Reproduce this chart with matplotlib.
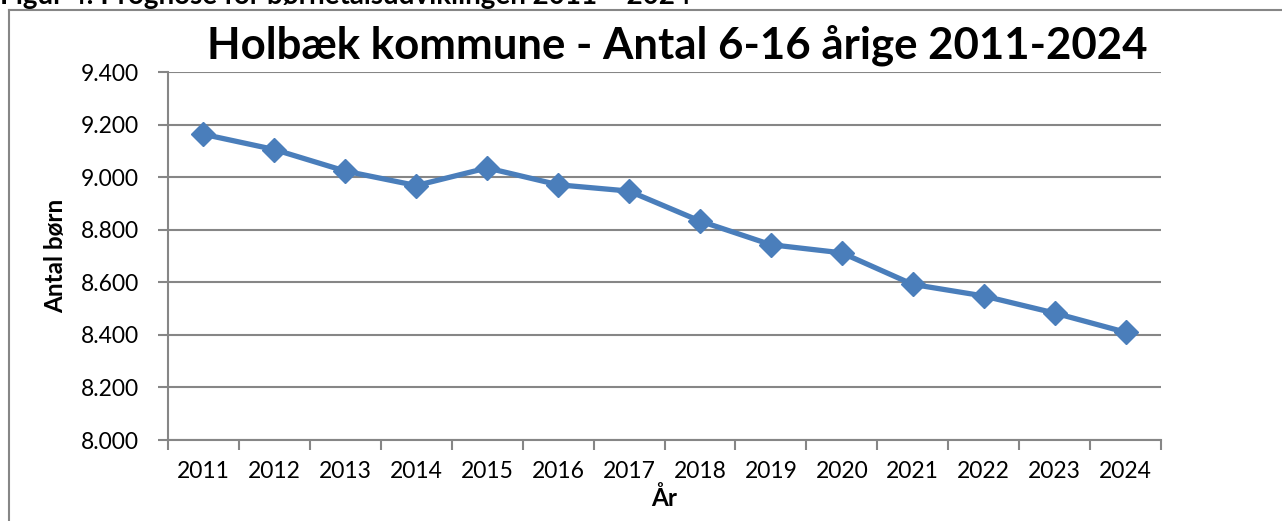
import matplotlib.pyplot as plt
from matplotlib.lines import Line2D
import numpy as np

# data
years = ["2011", "2012", "2013", "2014", "2015", "2016", "2017",
         "2018", "2019", "2020", "2021", "2022", "2023", "2024"]
antal = [9163, 9105, 9023, 8968, 9035, 8971, 8947,
         8833, 8743, 8712, 8592, 8548, 8483, 8410]
yticks = [8000, 8200, 8400, 8600, 8800, 9000, 9200, 9400]
ytick_labels = ["8.000", "8.200", "8.400", "8.600", "8.800", "9.000", "9.200", "9.400"]

plt.rcParams['font.family'] = ['Lato', 'DejaVu Sans']
grey = "#868686"
blue = "#4A7EBB"

fig = plt.figure(figsize=(12.82, 5.21), dpi=100)
ax = fig.add_axes([168 / 1282, 1 - 440 / 521, (1161 - 168) / 1282, (440 - 72) / 521])

x = np.arange(len(years))
ax.plot(x, antal, color=blue, lw=3.8, marker="D", markersize=12,
        markeredgecolor=blue, markerfacecolor=blue, clip_on=False, zorder=3)

ax.set_ylim(8000, 9400)
ax.set_xlim(-0.5, len(years) - 0.5)
ax.set_yticks(yticks)
ax.set_yticklabels(ytick_labels, fontsize=16.5)
ax.set_xticks(x)
ax.set_xticklabels(years, fontsize=16.5)
ax.set_xticks(np.arange(-0.5, len(years)), minor=True)
ax.tick_params(axis="x", which="major", length=0, pad=15)
ax.tick_params(axis="x", which="minor", length=7, width=1.5, color=grey, direction="out")
ax.tick_params(axis="y", length=7, width=1.5, color=grey, direction="out", pad=14)

ax.grid(axis="y", color=grey, lw=1.5)
ax.set_axisbelow(True)
for s in ["top", "right"]:
    ax.spines[s].set_visible(False)
for s in ["left", "bottom"]:
    ax.spines[s].set_color(grey)
    ax.spines[s].set_linewidth(1.5)

ax.set_ylabel("Antal børn", fontsize=17.5, fontweight="bold", labelpad=10)
ax.set_xlabel("År", fontsize=17.5, fontweight="bold", labelpad=3)

fig.text(677 / 1282, 1 - 45 / 521, "Holbæk kommune - Antal 6-16 årige 2011-2024",
         ha="center", va="center", fontsize=31.5, fontweight="bold")

# figure caption cut off at the top of the picture
fig.text(0.0, 1 - 4 / 521, "Figur 4: Prognose for børnetalsudviklingen 2011 – 2024",
         ha="left", va="baseline", fontsize=20, fontweight="bold")

# outer chart frame (only left and top visible)
fig.add_artist(Line2D([9 / 1282, 9 / 1282], [0, 1 - 10 / 521], color=grey, lw=1.5))
fig.add_artist(Line2D([9 / 1282, 1], [1 - 10 / 521, 1 - 10 / 521], color=grey, lw=1.5))

plt.savefig("out.png", dpi=100)
